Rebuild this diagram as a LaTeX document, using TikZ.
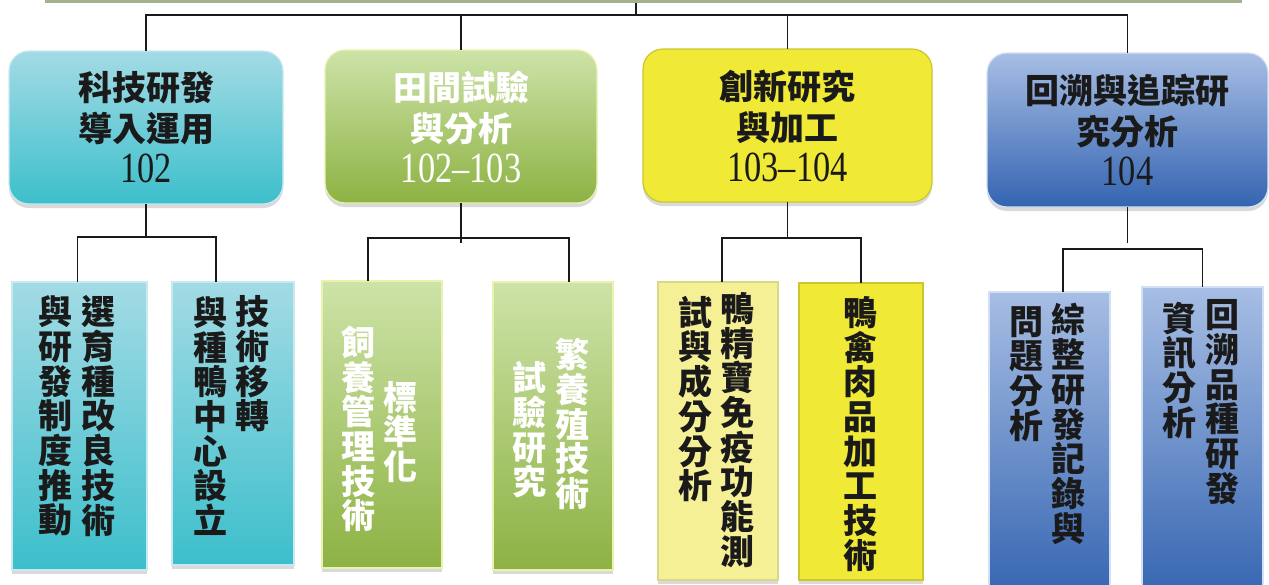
\documentclass[tikz,border=0pt]{standalone}
\usepackage{fontspec}
\usepackage{graphicx}
\newfontfamily\cjk{Noto Sans CJK TC}
\newfontfamily\numfont{Liberation Serif}
\usetikzlibrary{shadows}
\definecolor{bandgray}{HTML}{A3B18F}
\definecolor{cyanLt}{HTML}{A3DBE5}
\definecolor{cyanDk}{HTML}{3CBFCB}
\definecolor{greenLt}{HTML}{CDE3A8}
\definecolor{greenDk}{HTML}{8DB243}
\definecolor{yellowTop}{HTML}{F0E936}
\definecolor{yellowPale}{HTML}{F5EF95}
\definecolor{blueLt}{HTML}{A7BEE4}
\definecolor{blueDk}{HTML}{3464B1}
\definecolor{ink}{HTML}{1A1A1A}
\tikzset{
  box/.style = {inner sep=0pt, outer sep=0pt, text=ink,
    drop shadow={opacity=0.3, shadow xshift=0pt, shadow yshift=-4pt}},
  topbox/.style = {box, rounded corners=20pt, align=center, line width=1.2pt,
    font=\cjk\bfseries\fontsize{34}{41}\selectfont},
  subbox/.style = {box, line width=1.5pt},
  col/.style = {align=center, inner sep=0pt, text=ink,
    font=\cjk\bfseries\fontsize{34}{34.7}\selectfont},
  cyanbox/.style = {top color=cyanLt, bottom color=cyanDk, draw=cyanLt!60!white},
  greenbox/.style = {top color=greenLt, bottom color=greenDk, draw=greenLt!70!yellow!60!white},
  yellowbox/.style = {fill=yellowTop, draw=yellowTop!85!black},
  paleboxy/.style = {fill=yellowPale, draw=yellowPale!90!black},
  bluebox/.style = {top color=blueLt, bottom color=blueDk, draw=blueLt!50!white},
  band/.style = {fill=bandgray, inner sep=0pt, minimum width=1197pt, minimum height=2.5pt},
  link/.style = {draw=ink, line width=1.5pt},
}
\newcommand{\yr}[1]{{\numfont\mdseries\fontsize{43}{41}\selectfont\scalebox{0.8}[1]{#1}}}

\begin{document}
\begin{tikzpicture}[x=1pt, y=-1pt]
\useasboundingbox (0,0) rectangle (1269,584);
\node [band] (head) at (643.5,1.25) {};
\coordinate (hub) at (636,15);

% first row
\node [topbox, cyanbox, minimum width=274pt, minimum height=153pt] (t1) at (146,127.5)
  {科技研發\\導入運用\\\yr{102}};
\node [topbox, greenbox, text=white, minimum width=272pt, minimum height=153pt] (t2) at (461,126.5)
  {田間試驗\\與分析\\\yr{102–103}};
\node [topbox, yellowbox, minimum width=289pt, minimum height=153pt] (t3) at (787.5,125.5)
  {創新研究\\與加工\\\yr{103–104}};
\node [topbox, bluebox, minimum width=281pt, minimum height=154pt] (t4) at (1127.5,130)
  {回溯與追踪研\\究分析\\\yr{104}};

% second row
\node [subbox, cyanbox, minimum width=135pt, minimum height=288pt] (b1a) at (79.5,426) {};
\node [subbox, cyanbox, minimum width=122pt, minimum height=283pt] (b1b) at (233,423.5) {};
\node [subbox, greenbox, minimum width=120pt, minimum height=287pt] (b2a) at (382,424.5) {};
\node [subbox, greenbox, minimum width=120pt, minimum height=288pt] (b2b) at (553,426) {};
\node [subbox, paleboxy, minimum width=120pt, minimum height=298pt] (b3a) at (718,431) {};
\node [subbox, yellowbox, minimum width=124pt, minimum height=297pt] (b3b) at (861,431.5) {};
\node [subbox, bluebox, minimum width=121pt, minimum height=308pt] (b4a) at (1049.5,446) {};
\node [subbox, bluebox, minimum width=121pt, minimum height=313pt] (b4b) at (1202.5,443.5) {};

\node [col] (b1aR) at (98,416) {選\\育\\種\\改\\良\\技\\術};
\node [col] (b1aL) at (55,416) {與\\研\\發\\制\\度\\推\\動};
\node [col] (b1bR) at (252,364) {技\\術\\移\\轉};
\node [col] (b1bL) at (210,416) {與\\種\\鴨\\中\\心\\設\\立};
\node [col, text=white] (b2aL) at (358,429) {飼\\養\\管\\理\\技\\術};
\node [col, text=white] (b2aR) at (400,432) {標\\準\\化};
\node [col, text=white] (b2bR) at (572,424) {繁\\養\\殖\\技\\術};
\node [col, text=white] (b2bL) at (529,430) {試\\驗\\研\\究};
\node [col] (b3aR) at (737,430) {鴨\\精\\寶\\免\\疫\\功\\能\\測};
\node [col] (b3aL) at (695,399) {試\\與\\成\\分\\分\\析};
\node [col] (b3bC) at (860,434) {鴨\\禽\\肉\\品\\加\\工\\技\\術};
\node [col] (b4aR) at (1068,424) {綜\\整\\研\\發\\記\\錄\\與};
\node [col] (b4aL) at (1026,374) {問\\題\\分\\析};
\node [col] (b4bR) at (1222,402) {回\\溯\\品\\種\\研\\發};
\node [col] (b4bL) at (1179,370) {資\\訊\\分\\析};

% connectors
\draw [link] (head.south -| hub) -- (hub);
\draw [link] (hub) -| (t1.north);
\draw [link] (hub) -| (t2.north);
\draw [link] (hub) -| (t3.north);
\draw [link] (hub) -| (t4.north);

\coordinate (j1) at (146,237);
\draw [link] (t1.south) -- (j1);
\draw [link] (j1) -| ([xshift=-2pt]b1a.north);
\draw [link] (j1) -| ([xshift=-17pt]b1b.north);

\coordinate (j2) at (461,238);
\draw [link] (t2.south) -- ([yshift=-5pt]j2);
\draw [link] (j2) -| ([xshift=-14pt]b2a.north);
\draw [link] (j2) -| ([xshift=16pt]b2b.north);

\coordinate (j3) at (787.5,238);
\draw [link] (t3.south) -- (j3);
\draw [link] (j3) -| ([xshift=4pt]b3a.north);
\draw [link] (j3) -| (b3b.north);

\coordinate (j4) at (1127.5,243);
\coordinate (k4) at (1130,249);
\draw [link] (t4.south) -- (j4);
\draw [link] ([xshift=13.5pt]b4a.north) |- (k4) -| (b4b.north);
\end{tikzpicture}
\end{document}
